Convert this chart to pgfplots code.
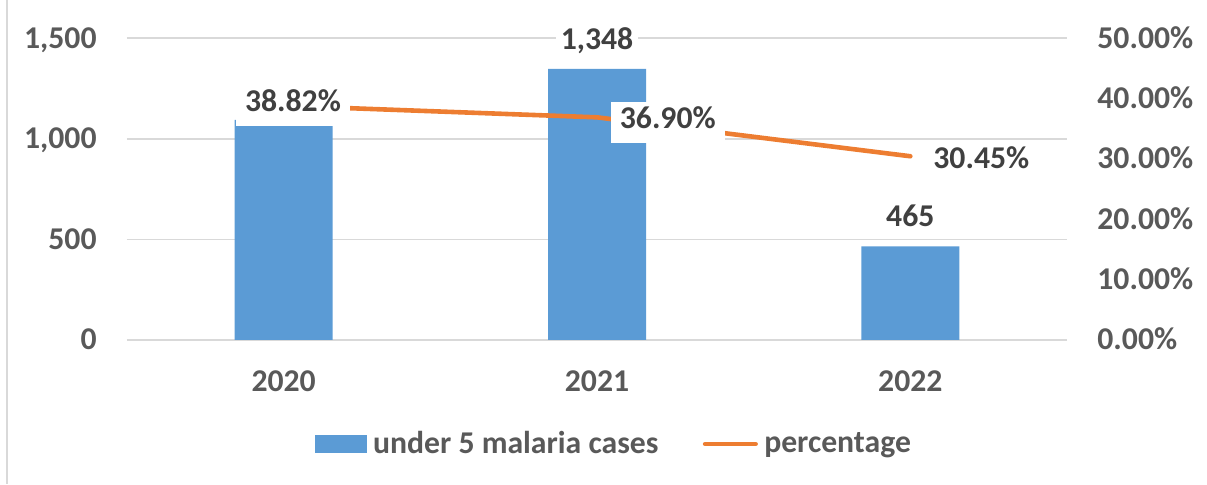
\documentclass[border=0pt]{standalone}
\usepackage{fontspec}
\setmainfont{Carlito}
\usepackage{pgfplots}
\pgfplotsset{compat=1.18}
\usepackage{pgfplotstable}

\definecolor{barblue}{HTML}{5B9BD5}
\definecolor{lineorange}{HTML}{ED7D31}
\definecolor{gridgray}{HTML}{D9D9D9}
\definecolor{ticktext}{HTML}{595959}
\definecolor{labeltext}{HTML}{404040}
\newcommand\chartfont{\fontsize{15.85pt}{18pt}\selectfont\bfseries}

% under-5 malaria cases per year (label column holds the printed value)
\pgfplotstableread{
x cases label
0 1094 {}
1 1348 {1,348}
2 465 {465}
}\casestable

% share of cases (percent) with label offsets in pt
\pgfplotstableread{
x pct dx dy
0 38.82 4.65 -3.0
1 36.90 35.4 -5.6
2 30.45 35.5 -6.0
}\pcttable

\begin{document}
\begin{tikzpicture}
\useasboundingbox (0,0) rectangle (603.5pt,242.5pt);
\draw[gridgray, line width=1pt] (3.5pt,0.5pt) -- (3.5pt,242.5pt);

\pgfplotsset{
  frame/.style={
    scale only axis,
    width=470pt, height=150.85pt,
    at={(63.5pt,72.5pt)}, anchor=south west,
    xmin=-0.5, xmax=2.5,
    clip=false,
    axis line style={draw=none},
    major tick length=0pt,
    scaled y ticks=false,
    /pgf/number format/assume math mode=true,
  },
}

\begin{axis}[
  frame,
  ybar, bar width=49pt,
  ymin=0, ymax=1500,
  ytick={0,500,1000,1500},
  /pgf/number format/1000 sep={,},
  ymajorgrids,
  major grid style={gridgray, line width=0.9pt},
  xtick={0,1,2},
  xticklabels={2020,2021,2022},
  xticklabel style={font=\chartfont, color=ticktext, anchor=base, inner sep=0pt, yshift=-26pt},
  yticklabel style={font=\chartfont, color=ticktext, anchor=base east, inner sep=0pt, xshift=-15pt, yshift=-5pt},
  legend columns=2,
  legend style={
    at={(0.2,-0.3447)}, anchor=west,
    draw=none, fill=none, inner sep=0pt,
    font=\chartfont, text=ticktext,
    nodes={inner sep=0pt},
    /tikz/every odd column/.append style={column sep=3pt},
    /tikz/every even column/.append style={column sep=22pt},
  },
]
\addplot[
  fill=barblue, draw=none,
  point meta=explicit symbolic,
  nodes near coords,
  every node near coord/.append style={
    font=\chartfont, color=labeltext, fill=white,
    anchor=base, yshift=9.75pt,
    inner xsep=2.5pt, inner ysep=5pt, text height=0.632em, text depth=0pt,
  },
  legend image code/.code={\fill[barblue] (0pt,-4.43pt) rectangle (25.85pt,4.43pt);},
] table[x=x, y=cases, meta=label] {\casestable};
\addlegendimage{legend image code/.code={
  \path (0pt,0pt) (27.5pt,0pt);
  \draw[lineorange, line width=2.3pt, line cap=round] (1.15pt,0pt) -- (26.35pt,0pt);}}
\legend{under 5 malaria cases, percentage}
\end{axis}

\begin{axis}[
  frame,
  axis x line=none,
  axis y line*=right,
  ymin=0, ymax=50,
  ytick={0,10,20,30,40,50},
  yticklabel={\pgfmathprintnumber[fixed, fixed zerofill, precision=2]{\tick}\%},
  yticklabel style={font=\chartfont, color=ticktext, anchor=base west, inner sep=0pt, xshift=15pt, yshift=-5pt},
]
\addplot[
  lineorange, line width=2.3pt, line cap=round, line join=round, mark=none,
  point meta=y,
  visualization depends on={\thisrow{dx} \as \ldx},
  visualization depends on={\thisrow{dy} \as \ldy},
  nodes near coords={\pgfmathprintnumber[fixed, fixed zerofill, precision=2]{\pgfplotspointmeta}\%},
  every node near coord/.append style={
    font=\chartfont, color=labeltext, fill=white,
    anchor=base, xshift=\ldx pt, yshift=\ldy pt,
    inner xsep=4.5pt, inner ysep=7pt, text height=0.632em, text depth=0pt,
  },
] table[x=x, y=pct] {\pcttable};
\end{axis}
\end{tikzpicture}
\end{document}
